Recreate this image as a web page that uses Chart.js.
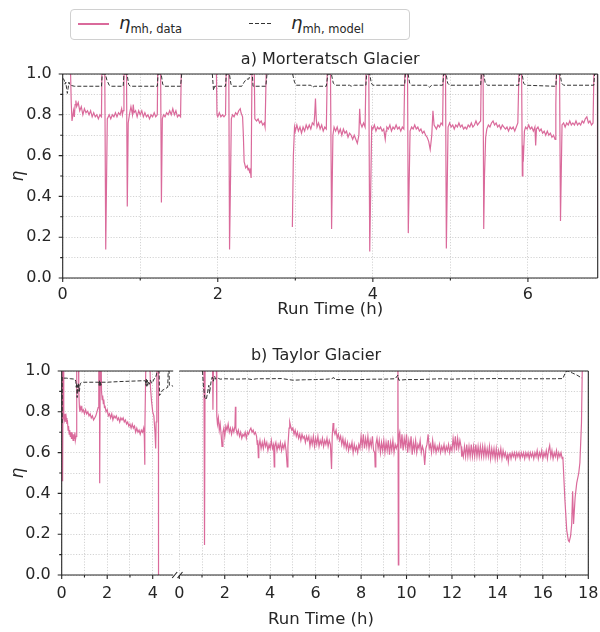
<!DOCTYPE html>
<html>
<head>
<meta charset="utf-8">
<script src="https://cdn.jsdelivr.net/npm/chart.js@4.4.1/dist/chart.umd.min.js"></script>
<style>
  body { margin: 0; background: #fff; font-family: "DejaVu Sans", sans-serif; color: #262626; }
  #wrap { position: relative; width: 600px; height: 632px; overflow: hidden; }
  canvas { position: absolute; }
  #topChart { left: 0; top: 44px; }
  #taylorA { left: 0; top: 350px; }
  #taylorB { left: 150px; top: 350px; }
  .lbl { position: absolute; white-space: nowrap; text-align: center; line-height: 20px; }
  #legend { position: absolute; left: 70px; top: 9px; width: 340px; height: 31px; box-sizing: border-box;
            border: 1px solid #d0d0d0; border-radius: 4px; background: #fff; }
  #legend .swatch { position: absolute; top: 13px; height: 1.5px; }
  #legend .entry { position: absolute; top: 1px; font-size: 18px; line-height: 24px; white-space: nowrap; }
  #legend sub { font-size: 11.5px; vertical-align: -4px; font-style: normal; }
</style>
</head>
<body>
<div id="wrap">
  <div id="legend">
    <div class="swatch" style="left:7px; width:31px; background:#da6a9b;"></div>
    <div class="entry" style="left:48px;"><i>η</i><sub>mh, data</sub></div>
    <div class="swatch" style="left:178px; width:24px; height:1px; background:repeating-linear-gradient(90deg,#333 0 4px,transparent 4px 6px);"></div>
    <div class="entry" style="left:220px;"><i>η</i><sub>mh, model</sub></div>
  </div>
  <canvas id="topChart" width="600" height="282"></canvas>
  <canvas id="taylorA" width="180" height="260"></canvas>
  <canvas id="taylorB" width="470" height="260"></canvas>
  <div class="lbl" style="left:216px; width:200px; top:345px; font-size:16px;">b) Taylor Glacier</div>
  <div class="lbl" style="left:221px; width:200px; top:609px; font-size:16.5px;">Run Time (h)</div>
</div>
<script>
// Axis ticks
const etaMajor = [0, 0.2, 0.4, 0.6, 0.8, 1.0];
const etaMinor = [0.1, 0.3, 0.5, 0.7, 0.9];
const mortHoursMajor = [0, 2, 4, 6];
const mortHoursMinor = [1, 3, 5];
const taylorAHoursMajor = [0, 2, 4];
const taylorAHoursMinor = [1, 3];
const taylorBHoursMajor = [0, 2, 4, 6, 8, 10, 12, 14, 16, 18];
const taylorBHoursMinor = [1, 3, 5, 7, 9, 11, 13, 15, 17];
const mortRange = [0, 6.9];
const taylorARange = [0, 4.9];
const taylorBRange = [0, 18];

// a) Morteratsch Glacier  [run time (h), eta]
const mortData = [
  [0.00,1.2],[0.09,1.2],[0.11,0.86],[0.12,0.77],[0.14,0.82],[0.15,0.79],[0.16,0.85],[0.17,0.87],[0.18,0.84],[0.20,0.86],
  [0.22,0.82],[0.24,0.84],[0.26,0.80],[0.28,0.83],[0.30,0.81],[0.32,0.82],[0.34,0.80],[0.36,0.82],[0.38,0.79],[0.40,0.81],
  [0.42,0.79],[0.44,0.80],[0.46,0.78],[0.48,0.80],[0.50,0.79],
  [0.51,1.2],[0.54,1.2],[0.555,0.14],[0.575,0.78],
  [0.60,0.80],[0.62,0.78],[0.64,0.80],[0.66,0.79],[0.68,0.81],[0.70,0.79],[0.72,0.81],[0.74,0.80],[0.76,0.83],[0.77,0.80],[0.78,0.82],
  [0.79,1.2],[0.82,1.2],[0.833,0.35],[0.845,0.76],
  [0.86,0.80],[0.88,0.84],[0.90,0.80],[0.91,0.85],[0.92,0.81],[0.94,0.82],[0.96,0.79],[0.98,0.82],[1.00,0.80],[1.02,0.82],
  [1.04,0.79],[1.06,0.81],[1.08,0.79],[1.10,0.80],[1.12,0.78],[1.14,0.80],[1.16,0.79],[1.18,0.81],[1.20,0.79],[1.22,0.80],
  [1.23,1.2],[1.26,1.2],[1.273,0.37],[1.285,0.78],
  [1.30,0.80],[1.32,0.79],[1.34,0.81],[1.36,0.80],[1.38,0.82],[1.40,0.80],[1.42,0.83],[1.44,0.80],[1.46,0.82],[1.48,0.79],
  [1.50,0.80],[1.52,0.79],[1.537,1.2],[1.56,1.2],[1.57,null],
  [1.96,1.2],[1.975,1.2],[1.99,0.80],[2.00,0.79],[2.02,0.81],[2.04,0.79],[2.06,0.80],[2.08,0.79],[2.10,0.80],
  [2.115,1.2],[2.14,1.2],[2.152,0.14],[2.175,0.78],
  [2.19,0.80],[2.21,0.79],[2.23,0.81],[2.25,0.80],[2.27,0.82],[2.29,0.83],[2.30,0.81],[2.32,0.79],[2.33,0.70],[2.34,0.57],
  [2.36,0.54],[2.38,0.55],[2.39,0.53],[2.40,0.54],[2.41,0.52],[2.42,0.53],[2.43,0.49],
  [2.445,1.2],[2.465,1.2],[2.478,0.78],[2.50,0.77],[2.52,0.78],[2.54,0.76],[2.56,0.77],[2.58,0.75],[2.60,0.76],[2.61,0.74],
  [2.635,1.2],[2.66,1.2],[2.67,null],
  [2.962,0.25],[2.975,0.60],[2.99,0.74],[3.00,0.72],[3.02,0.75],[3.04,0.72],[3.06,0.74],[3.08,0.71],[3.10,0.74],[3.12,0.72],
  [3.14,0.75],[3.16,0.73],[3.18,0.75],[3.20,0.73],[3.22,0.76],[3.24,0.75],[3.25,0.80],[3.26,0.88],[3.27,0.78],[3.28,0.74],
  [3.30,0.76],[3.32,0.73],[3.34,0.75],[3.36,0.72],[3.38,0.74],[3.40,0.73],
  [3.42,1.2],[3.45,1.2],[3.468,0.24],[3.485,0.70],
  [3.50,0.74],[3.52,0.72],[3.54,0.74],[3.56,0.71],[3.58,0.73],[3.60,0.70],[3.62,0.73],[3.64,0.71],[3.66,0.72],[3.68,0.69],
  [3.70,0.71],[3.72,0.70],[3.74,0.68],[3.76,0.70],[3.78,0.68],[3.80,0.66],[3.82,0.70],[3.83,0.83],[3.84,0.76],[3.86,0.74],
  [3.88,0.76],[3.90,0.74],
  [3.92,1.2],[3.945,1.2],[3.96,0.13],[3.985,0.74],
  [4.00,0.73],[4.02,0.75],[4.04,0.72],[4.06,0.74],[4.08,0.73],[4.10,0.74],[4.12,0.72],[4.14,0.73],[4.16,0.68],[4.17,0.72],
  [4.18,0.74],[4.20,0.73],[4.22,0.75],[4.24,0.72],[4.26,0.74],[4.28,0.73],[4.30,0.75],[4.32,0.73],[4.34,0.74],[4.36,0.72],
  [4.38,0.74],[4.40,0.73],
  [4.42,1.2],[4.445,1.2],[4.457,0.22],[4.48,0.72],
  [4.50,0.74],[4.52,0.73],[4.54,0.75],[4.56,0.73],[4.58,0.74],[4.60,0.72],[4.62,0.73],[4.64,0.71],[4.66,0.72],[4.68,0.70],
  [4.70,0.69],[4.72,0.67],[4.74,0.63],[4.76,0.70],[4.775,0.82],[4.79,0.75],[4.82,0.73],[4.84,0.75],[4.86,0.74],[4.88,0.76],
  [4.90,0.75],
  [4.915,1.2],[4.935,1.2],[4.948,0.145],[4.97,0.74],
  [4.99,0.76],[5.01,0.74],[5.03,0.75],[5.05,0.73],[5.07,0.75],[5.09,0.74],[5.11,0.76],[5.13,0.74],[5.15,0.75],[5.17,0.73],
  [5.19,0.74],[5.21,0.73],[5.23,0.75],[5.25,0.74],[5.27,0.76],[5.29,0.74],[5.31,0.75],[5.33,0.77],[5.35,0.75],[5.37,0.76],
  [5.39,0.77],
  [5.405,1.2],[5.42,1.2],[5.43,0.24],[5.44,0.50],[5.455,0.69],[5.47,0.73],
  [5.49,0.75],[5.51,0.74],[5.53,0.76],[5.55,0.77],[5.57,0.75],[5.59,0.76],[5.61,0.74],[5.63,0.75],[5.65,0.73],[5.67,0.75],
  [5.69,0.74],[5.71,0.73],[5.73,0.74],[5.75,0.72],[5.77,0.74],[5.79,0.73],[5.81,0.74],[5.83,0.72],[5.85,0.74],[5.87,0.76],
  [5.895,1.2],[5.915,1.2],[5.928,0.50],[5.935,0.65],[5.94,0.57],[5.955,0.72],
  [5.97,0.74],[5.99,0.73],[6.01,0.75],[6.03,0.73],[6.05,0.74],[6.07,0.72],[6.09,0.74],[6.10,0.65],[6.11,0.73],[6.13,0.74],
  [6.15,0.72],[6.17,0.73],[6.19,0.71],[6.21,0.72],[6.23,0.70],[6.25,0.72],[6.27,0.70],[6.29,0.71],[6.31,0.69],[6.33,0.70],
  [6.35,0.68],[6.36,0.85],[6.375,1.2],[6.405,1.2],[6.42,0.28],[6.44,0.75],
  [6.46,0.76],[6.48,0.74],[6.50,0.76],[6.52,0.75],[6.54,0.77],[6.56,0.75],[6.58,0.76],[6.60,0.75],[6.62,0.77],[6.64,0.75],
  [6.66,0.76],[6.68,0.75],[6.70,0.77],[6.72,0.76],[6.74,0.78],[6.76,0.79],[6.78,0.76],[6.80,0.77],[6.82,0.75],[6.84,0.76],
  [6.86,1.2],[6.895,1.2],[6.90,0.21]
];
const mortModel = [
  [0.00,0.98],[0.02,0.97],[0.03,0.95],[0.04,0.96],[0.05,0.93],[0.06,0.905],[0.07,0.93],[0.08,0.96],[0.09,0.95],[0.10,0.945],
  [0.15,0.94],[0.50,0.94],
  [0.51,1.0],[0.55,1.0],[0.57,0.97],[0.60,0.945],[0.62,0.94],[0.78,0.94],
  [0.79,1.0],[0.83,1.0],[0.85,0.95],[0.87,0.94],[1.22,0.94],
  [1.23,1.0],[1.27,1.0],[1.29,0.95],[1.31,0.94],[1.52,0.94],
  [1.535,1.0],[1.56,1.0],[1.57,null],
  [1.93,1.0],[1.945,0.92],[1.96,0.94],[2.10,0.94],
  [2.11,1.0],[2.15,1.0],[2.17,0.95],[2.19,0.94],[2.31,0.94],[2.34,0.96],[2.37,0.975],[2.40,0.975],[2.42,1.0],[2.445,1.0],
  [2.455,0.94],[2.62,0.94],
  [2.635,1.0],[2.66,1.0],[2.67,null],
  [2.965,1.0],[2.99,0.96],[3.01,0.945],[3.20,0.945],[3.22,0.935],[3.25,0.94],[3.40,0.94],
  [3.42,1.0],[3.465,1.0],[3.49,0.955],[3.52,0.945],[3.70,0.945],[3.72,0.94],[3.76,0.945],[3.91,0.945],
  [3.92,1.0],[3.96,1.0],[3.98,0.955],[4.00,0.945],[4.41,0.945],
  [4.42,1.0],[4.455,1.0],[4.475,0.955],[4.50,0.945],[4.70,0.945],[4.73,0.935],[4.76,0.945],[4.90,0.945],
  [4.915,1.0],[4.945,1.0],[4.965,0.955],[4.99,0.945],[5.39,0.945],
  [5.40,1.0],[5.43,1.0],[5.45,0.955],[5.48,0.945],[5.88,0.945],
  [5.895,1.0],[5.925,1.0],[5.945,0.955],[5.97,0.945],[6.34,0.94],[6.36,0.94],
  [6.37,1.0],[6.415,1.0],[6.435,0.955],[6.46,0.945],[6.85,0.945],
  [6.86,1.0],[6.91,1.0]
];

// b) Taylor Glacier, first run
const taylorAData = [
  [0.00,1.2],[0.03,1.2],[0.04,0.46],[0.06,0.95],[0.08,1.2],[0.10,0.78],[0.12,0.76],[0.15,0.79],[0.18,0.75],[0.20,0.77],
  [0.23,0.74],[0.25,0.76],[0.28,0.71],[0.30,0.73],[0.33,0.69],[0.35,0.71],[0.38,0.68],[0.40,0.70],[0.43,0.67],[0.45,0.70],
  [0.48,0.68],[0.50,0.66],[0.53,0.69],[0.55,0.67],[0.58,0.70],[0.60,0.66],[0.63,0.68],
  [0.66,1.2],[0.73,1.2],[0.75,0.90],[0.78,0.82],[0.80,0.80],[0.83,0.82],[0.85,0.81],[0.88,0.83],[0.90,0.80],[0.95,0.81],
  [1.00,0.79],[1.05,0.81],[1.10,0.79],[1.15,0.80],[1.20,0.78],[1.25,0.79],[1.30,0.77],[1.35,0.78],[1.40,0.76],[1.45,0.77],
  [1.50,0.78],[1.55,0.80],[1.60,0.82],
  [1.63,1.2],[1.66,1.0],[1.67,0.45],[1.69,0.95],[1.72,1.2],[1.75,0.90],[1.78,0.86],[1.80,0.88],[1.83,0.84],[1.85,0.86],
  [1.88,0.82],[1.90,0.83],[1.95,0.80],[2.00,0.81],[2.05,0.78],[2.10,0.79],[2.15,0.77],[2.20,0.79],[2.25,0.76],[2.30,0.78],
  [2.35,0.77],[2.40,0.78],[2.45,0.76],[2.50,0.77],[2.55,0.75],[2.60,0.77],[2.65,0.76],[2.70,0.77],[2.75,0.75],[2.80,0.76],
  [2.85,0.74],[2.90,0.75],[2.95,0.73],[3.00,0.74],[3.05,0.72],[3.10,0.74],[3.15,0.72],[3.20,0.73],[3.25,0.70],[3.30,0.72],
  [3.35,0.70],[3.40,0.71],[3.45,0.69],[3.50,0.71],[3.55,0.70],[3.60,0.72],[3.63,0.68],[3.645,0.54],[3.66,0.70],
  [3.72,1.2],[3.85,1.2],[3.90,0.92],[3.95,0.85],[4.00,0.80],[4.05,0.78],[4.10,0.70],[4.13,0.62],[4.15,0.75],[4.18,1.2],
  [4.25,1.2],[4.255,-0.05]
];
const taylorAModel = [
  [0.00,0.97],[0.01,0.74],[0.02,0.97],[0.05,0.965],[0.20,0.965],[0.40,0.962],[0.58,0.96],[0.62,0.95],[0.64,0.92],[0.66,0.94],
  [0.68,0.87],[0.70,0.93],[0.72,0.90],[0.74,0.94],[0.76,0.92],[0.78,0.90],[0.80,0.93],[0.83,0.94],[0.90,0.945],[1.50,0.945],
  [1.62,0.945],[1.64,0.93],[1.66,0.955],[1.68,0.925],[1.70,0.95],[1.72,0.93],[1.75,0.945],[2.00,0.945],[2.50,0.948],[3.00,0.95],
  [3.50,0.952],[3.68,0.952],[3.70,0.93],[3.72,0.96],[3.74,0.925],[3.76,0.955],[3.78,0.93],[3.80,0.95],[3.85,0.935],[3.90,0.955],
  [3.95,0.94],[4.00,0.945],[4.05,0.96],[4.12,0.965],[4.18,0.99],[4.22,1.0],[4.28,1.0],[4.30,0.88],[4.36,0.89],[4.42,0.905],
  [4.50,0.91],[4.58,0.915],[4.66,0.92],[4.68,1.0],[4.72,1.0],[4.73,0.93],[4.80,0.93],[4.90,0.925]
];

// b) Taylor Glacier, second run
const taylorBData = [
  [1.08,1.2],[1.11,0.147],[1.14,1.2],[1.45,1.2],[1.48,0.81],[1.52,1.2],[1.62,1.2],[1.65,0.78],[1.68,0.74],[1.72,0.77],
  [1.76,0.71],[1.80,0.74],[1.84,0.69],[1.88,0.63],[1.92,0.70],[1.96,0.72],[2.00,0.68],[2.05,0.73],[2.10,0.71],[2.15,0.74],
  [2.20,0.70],[2.25,0.72],[2.30,0.69],[2.35,0.72],[2.40,0.70],[2.45,0.73],[2.47,0.825],[2.49,0.72],[2.55,0.69],[2.60,0.71],
  [2.65,0.68],[2.70,0.70],[2.75,0.67],[2.80,0.69],[2.85,0.68],[2.90,0.70],[2.95,0.67],[3.00,0.70],[3.05,0.69],[3.10,0.71],
  [3.15,0.72],[3.20,0.70],[3.25,0.71],[3.30,0.69],[3.35,0.70],[3.40,0.68],[3.43,0.64],[3.45,0.66],[3.48,0.575],[3.50,0.63],
  [3.55,0.66],[3.60,0.62],[3.65,0.65],[3.70,0.62],[3.75,0.66],[3.80,0.63],[3.85,0.65],[3.90,0.61],[3.95,0.64],[4.00,0.62],
  [4.05,0.66],[4.10,0.62],[4.15,0.64],[4.18,0.53],[4.20,0.63],[4.25,0.65],[4.30,0.61],[4.35,0.64],[4.40,0.62],[4.45,0.65],
  [4.50,0.61],[4.55,0.64],[4.60,0.62],[4.65,0.65],[4.70,0.61],[4.75,0.53],[4.78,0.63],[4.83,0.72],[4.86,0.75],[4.90,0.73],
  [4.95,0.71],[5.00,0.72],[5.05,0.69],[5.10,0.71],[5.15,0.68],[5.20,0.70],[5.25,0.67],[5.30,0.69],[5.35,0.66],[5.40,0.69],
  [5.45,0.67],[5.50,0.68],[5.55,0.65],[5.60,0.68],[5.65,0.66],[5.70,0.68],[5.75,0.63],[5.80,0.67],[5.85,0.64],[5.90,0.68],
  [5.95,0.63],[6.00,0.67],[6.05,0.64],[6.10,0.68],[6.15,0.63],[6.20,0.66],[6.25,0.64],[6.30,0.67],[6.35,0.63],[6.40,0.66],
  [6.45,0.64],[6.50,0.67],[6.55,0.63],[6.60,0.66],[6.65,0.64],[6.70,0.52],[6.73,0.68],[6.77,0.745],[6.80,0.71],[6.85,0.69],
  [6.90,0.71],[6.95,0.67],[7.00,0.69],[7.05,0.66],[7.10,0.68],[7.15,0.64],[7.20,0.67],[7.25,0.63],[7.30,0.66],[7.35,0.62],
  [7.40,0.65],[7.45,0.61],[7.50,0.64],[7.55,0.62],[7.60,0.65],[7.65,0.60],[7.70,0.64],[7.75,0.61],[7.80,0.63],[7.85,0.60],
  [7.90,0.64],[7.95,0.62],[8.00,0.68],[8.05,0.63],[8.10,0.69],[8.15,0.62],[8.20,0.67],[8.25,0.63],[8.30,0.68],[8.35,0.62],
  [8.40,0.66],[8.45,0.63],[8.50,0.68],[8.55,0.61],[8.60,0.60],[8.62,0.53],[8.65,0.64],[8.70,0.67],[8.75,0.62],[8.80,0.66],
  [8.85,0.60],[8.90,0.65],[8.95,0.61],[9.00,0.66],[9.05,0.60],[9.10,0.65],[9.15,0.61],[9.20,0.66],[9.25,0.59],[9.30,0.65],
  [9.35,0.61],[9.40,0.66],[9.45,0.60],[9.50,0.64],[9.55,0.62],[9.60,0.64],[9.62,1.2],[9.64,0.05],[9.66,0.68],[9.70,0.70],
  [9.75,0.62],[9.80,0.69],[9.85,0.61],[9.90,0.67],[9.95,0.63],[10.00,0.69],[10.05,0.60],[10.10,0.66],[10.15,0.62],[10.20,0.68],
  [10.25,0.59],[10.30,0.65],[10.35,0.61],[10.40,0.66],[10.45,0.60],[10.50,0.64],[10.55,0.62],[10.60,0.66],[10.65,0.60],[10.70,0.63],
  [10.75,0.61],[10.80,0.54],[10.85,0.62],[10.90,0.64],[10.95,0.69],[11.00,0.62],[11.05,0.64],[11.10,0.60],[11.15,0.66],[11.20,0.61],
  [11.25,0.64],[11.30,0.60],[11.35,0.63],[11.40,0.61],[11.45,0.64],[11.50,0.60],[11.55,0.63],[11.60,0.61],[11.65,0.64],[11.70,0.60],
  [11.75,0.63],[11.80,0.61],[11.85,0.64],[11.90,0.60],[11.95,0.63],[12.00,0.61],[12.05,0.67],[12.10,0.62],[12.15,0.68],[12.20,0.61],
  [12.25,0.67],[12.30,0.62],[12.35,0.66],[12.40,0.63],[12.43,0.58],[12.45,0.61],[12.50,0.58],[12.55,0.63],[12.60,0.58],[12.65,0.64],
  [12.70,0.58],[12.75,0.63],[12.80,0.58],[12.85,0.64],[12.90,0.58],[12.95,0.63],[13.00,0.58],[13.05,0.64],[13.10,0.58],[13.15,0.63],
  [13.20,0.58],[13.25,0.63],[13.30,0.58],[13.35,0.63],[13.40,0.58],[13.45,0.63],[13.50,0.58],[13.55,0.62],[13.60,0.58],[13.65,0.63],
  [13.70,0.57],[13.75,0.62],[13.80,0.58],[13.85,0.62],[13.90,0.57],[13.95,0.62],[14.00,0.57],[14.05,0.61],[14.10,0.58],[14.15,0.62],
  [14.20,0.57],[14.25,0.61],[14.30,0.58],[14.35,0.60],[14.40,0.57],[14.45,0.59],[14.48,0.555],[14.52,0.59],[14.55,0.60],[14.60,0.57],
  [14.65,0.60],[14.70,0.58],[14.75,0.60],[14.80,0.57],[14.85,0.60],[14.90,0.58],[14.95,0.60],[15.00,0.57],[15.05,0.60],[15.10,0.58],
  [15.15,0.60],[15.20,0.57],[15.25,0.60],[15.30,0.58],[15.35,0.60],[15.40,0.57],[15.45,0.60],[15.50,0.58],[15.55,0.60],[15.60,0.57],
  [15.65,0.60],[15.70,0.58],[15.75,0.61],[15.80,0.57],[15.85,0.60],[15.90,0.58],[15.95,0.61],[16.00,0.57],[16.05,0.60],[16.10,0.58],
  [16.15,0.61],[16.20,0.57],[16.25,0.61],[16.30,0.635],[16.35,0.58],[16.40,0.61],[16.45,0.57],[16.50,0.60],[16.55,0.58],[16.60,0.61],
  [16.65,0.57],[16.70,0.60],[16.75,0.58],[16.80,0.60],[16.85,0.57],[16.88,0.58],[16.97,0.37],[17.05,0.22],[17.12,0.17],[17.16,0.163],
  [17.22,0.19],[17.27,0.25],[17.31,0.41],[17.35,0.25],[17.42,0.38],[17.49,0.45],[17.58,0.50],[17.63,0.55],[17.70,0.745],[17.74,1.05],
  [17.76,1.2]
];
const taylorBModel = [
  [1.02,1.0],[1.06,0.93],[1.12,0.87],[1.19,0.86],[1.25,0.90],[1.30,0.93],[1.33,0.89],[1.40,0.95],[1.45,0.97],[1.50,0.95],
  [1.55,0.975],[1.60,0.96],[1.70,0.965],[1.80,0.96],[2.00,0.962],[2.50,0.96],[3.00,0.962],[3.20,0.958],[3.40,0.962],[4.00,0.962],
  [4.50,0.963],[4.80,0.958],[5.00,0.955],[5.50,0.957],[6.00,0.958],[6.50,0.96],[6.70,0.962],[6.80,0.968],[6.85,0.958],[7.50,0.958],
  [8.00,0.958],[8.50,0.96],[9.00,0.96],[9.50,0.962],[9.62,0.98],[9.66,0.955],[10.0,0.958],[10.5,0.958],[11.0,0.96],[11.5,0.962],
  [12.0,0.96],[12.5,0.962],[13.0,0.962],[13.5,0.962],[14.0,0.963],[14.5,0.962],[15.0,0.962],[15.5,0.962],[16.0,0.962],[16.5,0.962],
  [16.88,0.963],[17.0,0.995],[17.1,1.0],[17.3,0.99],[17.5,0.98],[17.72,0.965]
];

const pink = '#da6a9b';
const ink = '#262626';
const gridColor = 'rgba(0,0,0,0.22)';
const tickFont = { family: 'DejaVu Sans', size: 16 };

// spines, tick marks (long = labelled, short = minor) and axis-break marks
const frame = {
  id: 'frame',
  afterDraw(chart, args, opts) {
    const ctx = chart.ctx;
    const a = chart.chartArea;
    ctx.save();
    ctx.strokeStyle = ink;
    ctx.lineWidth = 1.1;
    ctx.beginPath();
    opts.sides.forEach(side => {
      if (side === 'top') { ctx.moveTo(a.left, a.top); ctx.lineTo(a.right, a.top); }
      if (side === 'bottom') { ctx.moveTo(a.left, a.bottom); ctx.lineTo(a.right, a.bottom); }
      if (side === 'left') { ctx.moveTo(a.left, a.top); ctx.lineTo(a.left, a.bottom); }
      if (side === 'right') { ctx.moveTo(a.right, a.top); ctx.lineTo(a.right, a.bottom); }
    });
    const xs = chart.scales.x;
    xs.ticks.forEach(t => {
      const px = xs.getPixelForValue(t.value);
      ctx.moveTo(px, a.bottom);
      ctx.lineTo(px, a.bottom + (t.label !== '' ? 4 : 2.5));
    });
    if (opts.yTicks) {
      const ys = chart.scales.y;
      ys.ticks.forEach(t => {
        const py = ys.getPixelForValue(t.value);
        ctx.moveTo(a.left, py);
        ctx.lineTo(a.left - (t.label !== '' ? 4 : 2.5), py);
      });
    }
    if (opts.breakAt) {
      const cx = opts.breakAt === 'right' ? a.right + 1.5 : a.left + 0.7;
      ctx.moveTo(cx - 2.5, a.bottom + 3);
      ctx.lineTo(cx + 2.5, a.bottom - 3);
    }
    ctx.stroke();
    ctx.restore();
  }
};

function tickList(major, minor) {
  return major.concat(minor).sort((p, q) => p - q).map(v => ({ value: v }));
}

function makeChart(id, datasets, cfg) {
  return new Chart(document.getElementById(id), {
    type: 'line',
    data: { datasets: datasets },
    options: {
      responsive: false,
      animation: false,
      events: [],
      layout: { padding: cfg.padding },
      elements: { point: { radius: 0 }, line: { tension: 0 } },
      plugins: {
        legend: { display: false },
        tooltip: { enabled: false },
        title: cfg.title || { display: false },
        frame: cfg.frame
      },
      scales: {
        x: {
          type: 'linear',
          min: cfg.range[0],
          max: cfg.range[1],
          afterBuildTicks: s => { s.ticks = tickList(cfg.xMajor, cfg.xMinor); },
          afterFit: s => { s.height = cfg.xHeight; },
          grid: { color: gridColor, lineWidth: 0.8, drawTicks: false },
          border: { display: false, dash: [1.2, 1.6] },
          ticks: {
            padding: cfg.xPad, color: ink, font: tickFont, maxRotation: 0, autoSkip: false,
            callback: v => cfg.xMajor.includes(v) ? String(v) : ''
          },
          title: cfg.xTitle || { display: false }
        },
        y: {
          type: 'linear',
          min: 0,
          max: 1,
          afterBuildTicks: s => { s.ticks = tickList(etaMajor, etaMinor); },
          afterFit: s => { s.width = cfg.yWidth; },
          grid: { color: gridColor, lineWidth: 0.8, drawTicks: false },
          border: { display: false, dash: [1.2, 1.6] },
          ticks: {
            display: cfg.yWidth > 0, padding: 11, color: ink, font: tickFont, autoSkip: false,
            callback: v => etaMajor.includes(v) ? v.toFixed(1) : ''
          },
          title: cfg.yWidth > 0 ? {
            display: true, text: 'η', color: ink,
            font: { family: 'DejaVu Sans', size: 17, style: 'italic' },
            padding: { top: 8, bottom: 0 }
          } : { display: false }
        }
      }
    },
    plugins: [frame]
  });
}

function series(data, model) {
  return [
    { data: model, borderColor: '#333', borderWidth: 1, borderDash: [4, 2] },
    { data: data, borderColor: pink, borderWidth: 1.2 }
  ];
}

makeChart('topChart', series(mortData, mortModel), {
  padding: { left: 0, right: 2.3, top: 0, bottom: 0 },
  range: mortRange, xMajor: mortHoursMajor, xMinor: mortHoursMinor,
  xHeight: 48, xPad: 7, yWidth: 62.7,
  title: {
    display: true, text: 'a) Morteratsch Glacier', color: ink, fullSize: false,
    font: { family: 'DejaVu Sans', size: 16, weight: 'normal', lineHeight: 1.125 },
    padding: { top: 7, bottom: 5 }
  },
  xTitle: {
    display: true, text: 'Run Time (h)', color: ink,
    font: { family: 'DejaVu Sans', size: 16.5 },
    padding: { top: 0, bottom: 6 }
  },
  frame: { sides: ['top', 'right', 'bottom', 'left'], yTicks: true }
});

makeChart('taylorA', series(taylorAData, taylorAModel), {
  padding: { left: 0, right: 6.8, top: 21, bottom: 0 },
  range: taylorARange, xMajor: taylorAHoursMajor, xMinor: taylorAHoursMinor,
  xHeight: 35, xPad: 9, yWidth: 61.7,
  frame: { sides: ['top', 'bottom', 'left'], yTicks: true, breakAt: 'right' }
});

makeChart('taylorB', series(taylorBData, taylorBModel), {
  padding: { left: 29.3, right: 31.7, top: 21, bottom: 0 },
  range: taylorBRange, xMajor: taylorBHoursMajor, xMinor: taylorBHoursMinor,
  xHeight: 35, xPad: 9, yWidth: 0,
  frame: { sides: ['top', 'bottom', 'right'], yTicks: false, breakAt: 'left' }
});
</script>
</body>
</html>
